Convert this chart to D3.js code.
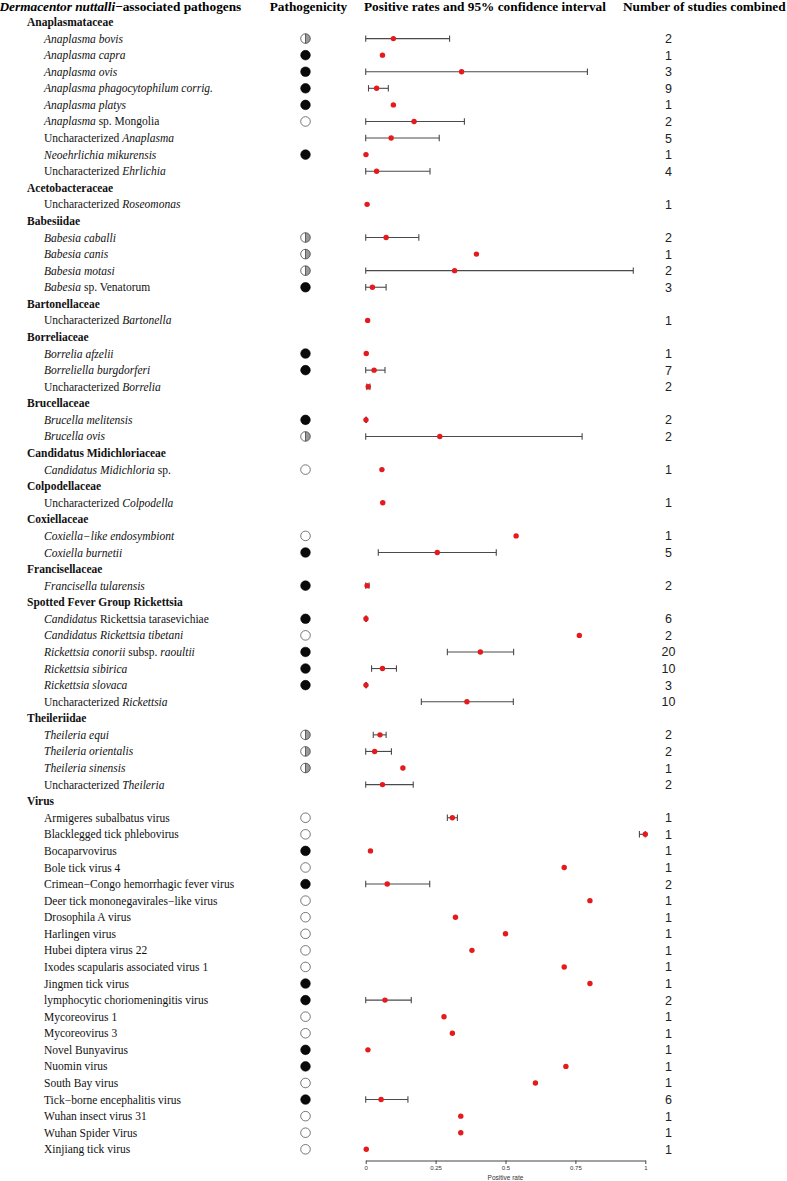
<!DOCTYPE html>
<html>
<head>
<meta charset="utf-8">
<script src="https://cdn.jsdelivr.net/npm/d3@7/dist/d3.min.js"></script>
<style>
html,body{margin:0;padding:0;background:#fff;}
svg{display:block;}
</style>
</head>
<body>
<svg id="chart" width="787" height="1181"></svg>
<script>
// ---- DATA ----
// row kinds: "g" = group header, "i" = item
const labels = [
  "g|Anaplasmataceae",
  "i|*Anaplasma bovis*",
  "i|*Anaplasma capra*",
  "i|*Anaplasma ovis*",
  "i|*Anaplasma phagocytophilum corrig.*",
  "i|*Anaplasma platys*",
  "i|*Anaplasma* sp. Mongolia",
  "i|Uncharacterized *Anaplasma*",
  "i|*Neoehrlichia mikurensis*",
  "i|Uncharacterized *Ehrlichia*",
  "g|Acetobacteraceae",
  "i|Uncharacterized *Roseomonas*",
  "g|Babesiidae",
  "i|*Babesia caballi*",
  "i|*Babesia canis*",
  "i|*Babesia motasi*",
  "i|*Babesia* sp. Venatorum",
  "g|Bartonellaceae",
  "i|Uncharacterized *Bartonella*",
  "g|Borreliaceae",
  "i|*Borrelia afzelii*",
  "i|*Borreliella burgdorferi*",
  "i|Uncharacterized *Borrelia*",
  "g|Brucellaceae",
  "i|*Brucella melitensis*",
  "i|*Brucella ovis*",
  "g|Candidatus Midichloriaceae",
  "i|*Candidatus Midichloria* sp.",
  "g|Colpodellaceae",
  "i|Uncharacterized *Colpodella*",
  "g|Coxiellaceae",
  "i|*Coxiella−like endosymbiont*",
  "i|*Coxiella burnetii*",
  "g|Francisellaceae",
  "i|*Francisella tularensis*",
  "g|Spotted Fever Group Rickettsia",
  "i|*Candidatus* Rickettsia tarasevichiae",
  "i|*Candidatus Rickettsia tibetani*",
  "i|*Rickettsia conorii* subsp. *raoultii*",
  "i|*Rickettsia sibirica*",
  "i|*Rickettsia slovaca*",
  "i|Uncharacterized *Rickettsia*",
  "g|Theileriidae",
  "i|*Theileria equi*",
  "i|*Theileria orientalis*",
  "i|*Theileria sinensis*",
  "i|Uncharacterized *Theileria*",
  "g|Virus",
  "i|Armigeres subalbatus virus",
  "i|Blacklegged tick phlebovirus",
  "i|Bocaparvovirus",
  "i|Bole tick virus 4",
  "i|Crimean−Congo hemorrhagic fever virus",
  "i|Deer tick mononegavirales−like virus",
  "i|Drosophila A virus",
  "i|Harlingen virus",
  "i|Hubei diptera virus 22",
  "i|Ixodes scapularis associated virus 1",
  "i|Jingmen tick virus",
  "i|lymphocytic choriomeningitis virus",
  "i|Mycoreovirus 1",
  "i|Mycoreovirus 3",
  "i|Novel Bunyavirus",
  "i|Nuomin virus",
  "i|South Bay virus",
  "i|Tick−borne encephalitis virus",
  "i|Wuhan insect virus 31",
  "i|Wuhan Spider Virus",
  "i|Xinjiang tick virus"
];
// pathogenicity: F = pathogenic (filled), H = potentially (half), E = non-pathogenic (empty), "" = none
const pathogenicity = [
  "", "H","F","F","F","F","E","","F","",
  "", "",
  "", "H","H","H","F",
  "", "",
  "", "F","F","",
  "", "F","H",
  "", "E",
  "", "",
  "", "E","F",
  "", "F",
  "", "F","E","F","F","F","",
  "", "H","H","H","",
  "", "E","E","F","E","F","E","E","E","E","E","F","F","E","E","F","F","E","F","E","E","E"
];
// positive rate estimate (null for group rows)
const rate = [
  null, 0.099,0.060,0.343,0.039,0.099,0.173,0.091,0.001,0.039,
  null, 0.005,
  null, 0.073,0.396,0.318,0.024,
  null, 0.007,
  null, 0.002,0.030,0.009,
  null, 0.001,0.265,
  null, 0.058,
  null, 0.061,
  null, 0.538,0.256,
  null, 0.005,
  null, 0.001,0.764,0.410,0.060,0.001,0.362,
  null, 0.051,0.032,0.133,0.060,
  null, 0.310,1.000,0.017,0.710,0.077,0.802,0.321,0.500,0.380,0.710,0.802,0.069,0.280,0.310,0.008,0.716,0.607,0.055,0.340,0.340,0.002
];
// 95% CI lower / upper (null when no interval drawn)
const ciLower = [
  null, 0.000,null,0.000,0.010,null,0.000,0.000,null,0.000,
  null, null,
  null, 0.000,null,0.000,0.000,
  null, null,
  null, null,0.000,0.004,
  null, 0.000,0.000,
  null, null,
  null, null,
  null, null,0.045,
  null, 0.000,
  null, 0.000,null,0.292,0.021,0.000,0.199,
  null, 0.027,0.000,null,0.000,
  null, 0.292,0.979,null,null,0.000,null,null,null,null,null,null,0.000,null,null,null,null,null,0.000,null,null,null
];
const ciUpper = [
  null, 0.300,null,0.793,0.081,null,0.353,0.263,null,0.230,
  null, null,
  null, 0.190,null,0.957,0.073,
  null, null,
  null, null,0.069,0.015,
  null, 0.003,0.774,
  null, null,
  null, null,
  null, null,0.467,
  null, 0.012,
  null, 0.003,null,0.529,0.110,0.003,0.528,
  null, 0.073,0.092,null,0.170,
  null, 0.328,1.000,null,null,0.229,null,null,null,null,null,null,0.163,null,null,null,null,null,0.151,null,null,null
];
const studies = [
  null, 2,1,3,9,1,2,5,1,4,
  null, 1,
  null, 2,1,2,3,
  null, 1,
  null, 1,7,2,
  null, 2,2,
  null, 1,
  null, 1,
  null, 1,5,
  null, 2,
  null, 6,2,20,10,3,10,
  null, 2,2,1,2,
  null, 1,1,1,1,2,1,1,1,1,1,1,2,1,1,1,1,1,6,1,1,1
];
const xTicks = [0, 0.25, 0.5, 0.75, 1];
const xTickLabels = ["0", "0.25", "0.5", "0.75", "1"];

// ---- LAYOUT ----
const svg = d3.select("#chart");
const serif = "'Liberation Serif','Times New Roman',serif";
const sans = "'Liberation Sans',Arial,sans-serif";

const rowIdx = d3.range(labels.length);
const y = d3.scaleLinear().domain([0, labels.length - 1]).range([22, 1149.3]);
const x = d3.scaleLinear().domain([0, 1]).range([365.7, 645.3]);

// headers
const hdr = svg.append("g").attr("font-family", serif).attr("font-weight", "bold").attr("font-size", 13.3).attr("fill", "#000");
const t0 = hdr.append("text").attr("x", -0.5).attr("y", 10.5);
t0.append("tspan").attr("font-style", "italic").text("Dermacentor nuttalli");
t0.append("tspan").text("−associated pathogens");
hdr.append("text").attr("x", 308.5).attr("y", 10.5).attr("text-anchor", "middle").text("Pathogenicity");
hdr.append("text").attr("x", 364).attr("y", 10.5).text("Positive rates and 95% confidence interval");
hdr.append("text").attr("x", 623).attr("y", 10.5).text("Number of studies combined");

// labels
const lab = svg.append("g").attr("font-family", serif).attr("font-size", 11.5).attr("fill", "#111");
rowIdx.forEach(i => {
  const [kind, txt] = labels[i].split("|");
  const t = lab.append("text")
    .attr("x", kind === "g" ? 27 : 44)
    .attr("y", y(i))
    .attr("dy", "0.35em")
    .attr("font-weight", kind === "g" ? "bold" : "normal");
  txt.split("*").forEach((part, k) => {
    if (part.length === 0) return;
    const ts = t.append("tspan").text(part);
    if (k % 2 === 1) ts.attr("font-style", "italic");
  });
});

// pathogenicity icons
const px = 305.5, pr = 4.8;
const icons = svg.append("g");
rowIdx.forEach(i => {
  const p = pathogenicity[i];
  if (!p) return;
  const cy = y(i);
  const g = icons.append("g").attr("transform", `translate(${px},${cy})`);
  if (p === "F") {
    g.append("circle").attr("r", pr).attr("fill", "#0a0a0a").attr("stroke", "#000").attr("stroke-width", 0.6);
  } else if (p === "E") {
    g.append("circle").attr("r", pr).attr("fill", "#fff").attr("stroke", "#555").attr("stroke-width", 0.8);
  } else {
    g.append("circle").attr("r", pr).attr("fill", "#fff");
    g.append("path").attr("d", d3.arc()({innerRadius: 0, outerRadius: pr, startAngle: 0, endAngle: Math.PI}))
      .attr("fill", "#9a9a9a");
    g.append("circle").attr("r", pr).attr("fill", "none").attr("stroke", "#444").attr("stroke-width", 0.8);
    g.append("line").attr("x1", 0).attr("x2", 0).attr("y1", -pr).attr("y2", pr).attr("stroke", "#444").attr("stroke-width", 0.8);
  }
});

// CI lines
const ci = svg.append("g").attr("stroke", "#4a4a4a").attr("stroke-width", 1.1);
rowIdx.forEach(i => {
  if (ciLower[i] == null) return;
  const cy = y(i), a = x(ciLower[i]), b = x(ciUpper[i]);
  ci.append("line").attr("x1", a).attr("x2", b).attr("y1", cy).attr("y2", cy);
  ci.append("line").attr("x1", a).attr("x2", a).attr("y1", cy - 3.2).attr("y2", cy + 3.2);
  ci.append("line").attr("x1", b).attr("x2", b).attr("y1", cy - 3.2).attr("y2", cy + 3.2);
});

// points
svg.append("g").selectAll("circle")
  .data(rowIdx.filter(i => rate[i] != null))
  .join("circle")
  .attr("cx", i => x(rate[i]))
  .attr("cy", i => y(i))
  .attr("r", 2.7)
  .attr("fill", "#e41a1c");

// study counts
svg.append("g").attr("font-family", sans).attr("font-size", 12.5).attr("fill", "#222")
  .selectAll("text")
  .data(rowIdx.filter(i => studies[i] != null))
  .join("text")
  .attr("x", 668.5)
  .attr("y", i => y(i))
  .attr("dy", "0.36em")
  .attr("text-anchor", "middle")
  .text(i => studies[i]);

// axis
const axisG = svg.append("g").attr("transform", "translate(0,1160.5)")
  .call(d3.axisBottom(x).tickValues(xTicks).tickFormat((d, k) => xTickLabels[k]).tickSize(3.5).tickSizeOuter(0).tickPadding(2));
axisG.select(".domain").attr("stroke", "#444");
axisG.selectAll(".tick line").attr("stroke", "#444");
axisG.selectAll(".tick text").attr("font-family", sans).attr("font-size", 6).attr("fill", "#333");
svg.append("text").attr("x", x(0.5)).attr("y", 1180).attr("text-anchor", "middle")
  .attr("font-family", sans).attr("font-size", 6.5).attr("fill", "#333").text("Positive rate");
</script>
</body>
</html>
